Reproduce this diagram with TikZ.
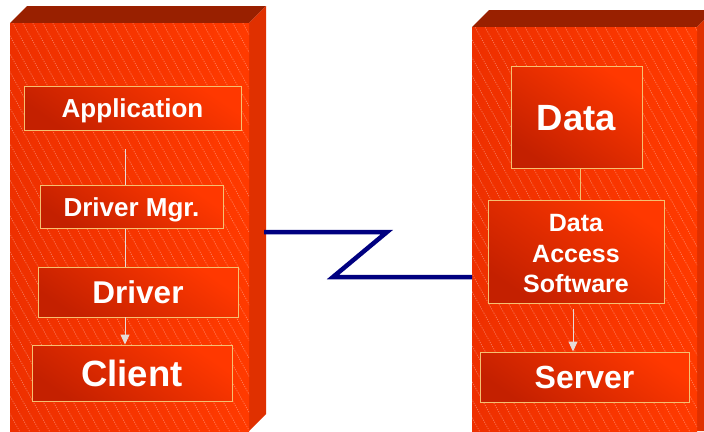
\documentclass[tikz,border=0pt]{standalone}
\usepackage{fontspec}
\setmainfont{Liberation Sans}
\usetikzlibrary{arrows.meta}
\definecolor{frontlight}{HTML}{FF3A00}
\definecolor{frontdark}{HTML}{EE3000}
\definecolor{topface}{HTML}{992000}
\definecolor{sideface}{HTML}{E03000}
\definecolor{boxdark}{HTML}{C42000}
\definecolor{boxlight}{HTML}{FF3800}
\definecolor{boxborder}{HTML}{F5C070}
\definecolor{connlight}{HTML}{E6DAD6}
\definecolor{navyline}{HTML}{000080}
\tikzset{
  box/.style={draw=boxborder, line width=0.9pt, bottom color=boxdark, top color=boxlight,
    shading angle=-35, text=white, align=center, inner sep=0pt},
  cap/.style={text height=#1, text depth=0pt},
  hatch/.style={white, opacity=0.33, line width=0.7pt, dash pattern=on 1.2pt off 1.2pt},
  conn/.style={connlight, line width=0.9pt},
  arr/.style={conn, -{Triangle[width=9pt,length=10pt]}},
  wan/.style={navyline, line width=4.5pt, line join=miter, line cap=butt},
  topfc/.style={fill=topface},
  sidefc/.style={fill=sideface}
}
\newcommand{\fs}[1]{\bfseries\fontsize{#1}{#1}\selectfont}
\begin{document}
\begin{tikzpicture}[x=1pt,y=-1pt]
\useasboundingbox (0,0) rectangle (704,431);
% left cube
\fill[topfc] (10,23) -- (27,6) -- (266,6) -- (249,23) -- cycle;
\fill[sidefc] (249,23) -- (266,6) -- (266,414) -- (249,431) -- cycle;
\shade[left color=frontdark, right color=frontlight] (10,23) rectangle (249,431);
\begin{scope}
  \clip (10,23) rectangle (249,431);
  \foreach \i in {-260,-250,...,260} \draw[hatch] (\i,0) -- ++(240,432);
\end{scope}
% right cube
\fill[topfc] (472,27) -- (489,10) -- (714,10) -- (697,27) -- cycle;
\fill[sidefc] (697,27) -- (714,10) -- (714,431) -- (697,431) -- cycle;
\shade[left color=frontdark, right color=frontlight] (472,27) rectangle (697,431);
\begin{scope}
  \clip (472,27) rectangle (697,431);
  \foreach \i in {200,210,...,720} \draw[hatch] (\i,0) -- ++(240,432);
\end{scope}
% left boxes
\node[box, cap=18.7pt, minimum width=217pt, minimum height=44pt, font=\fs{26}] (app) at (132.5,108) {Application};
\node[box, cap=18.7pt, minimum width=183pt, minimum height=43pt, font=\fs{26}] (mgr) at (131.5,207) {Driver Mgr.};
\node[box, cap=22.6pt, minimum width=200pt, minimum height=50pt, font=\fs{31.5}] (drv) at (138,292) {Driver};
\node[box, cap=26.2pt, minimum width=200pt, minimum height=56pt, font=\fs{36.5}] (cli) at (132,373) {Client};
% right boxes
\node[box, cap=26.2pt, minimum width=131pt, minimum height=102pt, font=\fs{36.5}] (data) at (576.5,117) {Data};
\node[box, minimum width=176pt, minimum height=103pt, font=\bfseries\fontsize{25}{30.5}\selectfont] (das) at (576,251.5) {\rule{0pt}{22pt}Data\\Access\\Software};
\node[box, cap=22.9pt, minimum width=209pt, minimum height=50pt, font=\fs{32}] (srv) at (584.5,377) {Server};
% inner connectors
\coordinate (appout) at (125,149);
\draw[conn] (appout) -- (mgr.north -| appout);
\draw[conn] (mgr.south -| appout) -- (drv.north -| appout);
\draw[arr] (drv.south -| appout) -- (cli.north -| appout);
\coordinate (datax) at (580,0);
\draw[conn, boxborder] (data.south -| datax) -- (das.north -| datax);
\coordinate (dasout) at (573,309);
\draw[arr] (dasout) -- (srv.north -| dasout);
% network link
\coordinate (lside) at (264,232);
\coordinate (rfront) at (472,277);
\draw[wan] (lside) -- (387,232) -- (333,277) -- (rfront);
\end{tikzpicture}
\end{document}
